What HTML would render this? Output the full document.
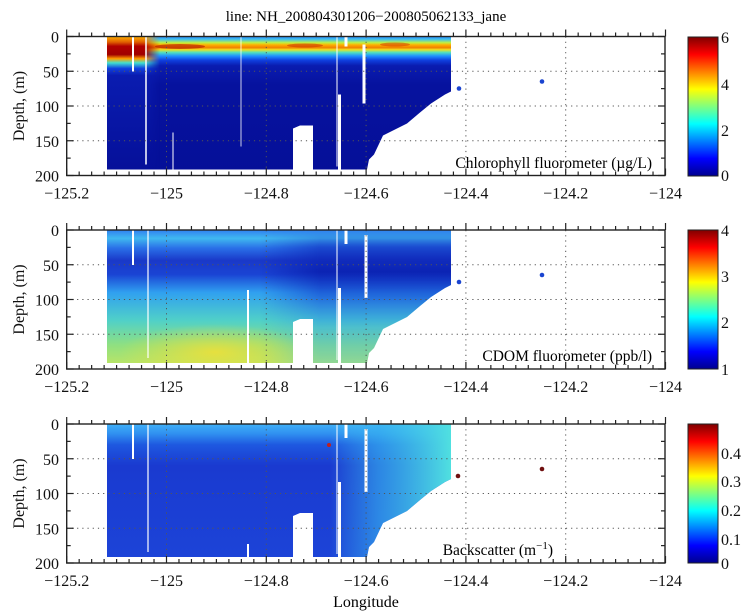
<!DOCTYPE html>
<html><head><meta charset="utf-8"><style>
html,body{margin:0;padding:0;background:#fff;}
svg{display:block;font-family:"Liberation Serif",serif;}
</style></head><body>
<svg width="750" height="614" viewBox="0 0 750 614" xmlns="http://www.w3.org/2000/svg">
<defs>
<linearGradient id="jet" x1="0" y1="1" x2="0" y2="0">
<stop offset="0" stop-color="#00008f"/><stop offset="0.125" stop-color="#0000ff"/>
<stop offset="0.375" stop-color="#00ffff"/><stop offset="0.625" stop-color="#ffff00"/>
<stop offset="0.875" stop-color="#ff0000"/><stop offset="1" stop-color="#800000"/>
</linearGradient>
<linearGradient id="chl" gradientUnits="userSpaceOnUse" x1="0" y1="0" x2="0" y2="139">
<stop offset="0" stop-color="#2a8cff"/><stop offset="0.02" stop-color="#40c0f0"/>
<stop offset="0.045" stop-color="#c0f040"/><stop offset="0.06" stop-color="#ffb000"/>
<stop offset="0.08" stop-color="#f08000"/><stop offset="0.095" stop-color="#f0e020"/>
<stop offset="0.115" stop-color="#50e0c0"/><stop offset="0.14" stop-color="#2090ff"/>
<stop offset="0.17" stop-color="#1040e0"/><stop offset="0.21" stop-color="#0a1cb0"/>
<stop offset="0.35" stop-color="#06129e"/><stop offset="1" stop-color="#050f98"/>
</linearGradient>
<linearGradient id="chlL" gradientUnits="userSpaceOnUse" x1="0" y1="0" x2="0" y2="139">
<stop offset="0" stop-color="#ffb000"/><stop offset="0.04" stop-color="#e06000"/>
<stop offset="0.07" stop-color="#b00000"/><stop offset="0.13" stop-color="#a00000"/>
<stop offset="0.16" stop-color="#ffa000"/><stop offset="0.19" stop-color="#40e0d0"/>
<stop offset="0.23" stop-color="#1040e0"/><stop offset="0.28" stop-color="#0a1cb0"/>
<stop offset="1" stop-color="#050f98"/>
</linearGradient>
<linearGradient id="fadeR" gradientUnits="userSpaceOnUse" x1="107" y1="0" x2="160" y2="0">
<stop offset="0" stop-color="#fff" stop-opacity="1"/><stop offset="0.7" stop-color="#fff" stop-opacity="1"/><stop offset="1" stop-color="#fff" stop-opacity="0"/>
</linearGradient>
<mask id="mL"><rect x="100" y="0" width="70" height="139" fill="url(#fadeR)"/></mask>
<linearGradient id="cdom" gradientUnits="userSpaceOnUse" x1="0" y1="0" x2="0" y2="139">
<stop offset="0" stop-color="#3080f0"/><stop offset="0.06" stop-color="#40b8f0"/>
<stop offset="0.13" stop-color="#2a70e8"/><stop offset="0.22" stop-color="#1a38c8"/>
<stop offset="0.32" stop-color="#1a44d4"/><stop offset="0.45" stop-color="#30a0f0"/>
<stop offset="0.65" stop-color="#50d0c8"/><stop offset="0.83" stop-color="#90e080"/>
<stop offset="0.96" stop-color="#b8e468"/><stop offset="1" stop-color="#b8e468"/>
</linearGradient>
<linearGradient id="cdomR" gradientUnits="userSpaceOnUse" x1="0" y1="0" x2="0" y2="139">
<stop offset="0" stop-color="#1a40d0" stop-opacity="0"/><stop offset="0.12" stop-color="#1030c0" stop-opacity="0.6"/>
<stop offset="0.3" stop-color="#0a20b0" stop-opacity="0.9"/><stop offset="0.5" stop-color="#1a50d8" stop-opacity="0.6"/>
<stop offset="0.7" stop-color="#30a0f0" stop-opacity="0.4"/><stop offset="1" stop-color="#40c0f0" stop-opacity="0.3"/>
</linearGradient>
<linearGradient id="cdomRH" gradientUnits="userSpaceOnUse" x1="260" y1="0" x2="320" y2="0">
<stop offset="0" stop-color="#fff" stop-opacity="0"/><stop offset="1" stop-color="#fff" stop-opacity="1"/>
</linearGradient>
<mask id="mR"><rect x="250" y="0" width="210" height="139" fill="url(#cdomRH)"/></mask>
<linearGradient id="bs" gradientUnits="userSpaceOnUse" x1="0" y1="0" x2="0" y2="139">
<stop offset="0" stop-color="#40b0f8"/><stop offset="0.07" stop-color="#3090f0"/>
<stop offset="0.15" stop-color="#1e58e0"/><stop offset="0.3" stop-color="#1a3ad0"/>
<stop offset="1" stop-color="#1c44d8"/>
</linearGradient>
<linearGradient id="bsR" gradientUnits="userSpaceOnUse" x1="330" y1="0" x2="451" y2="0">
<stop offset="0" stop-color="#40c8f0" stop-opacity="0"/><stop offset="0.4" stop-color="#38b8f0" stop-opacity="0.6"/>
<stop offset="1" stop-color="#50e0e0" stop-opacity="1"/>
</linearGradient>
<radialGradient id="yel"><stop offset="0" stop-color="#f8e030" stop-opacity="0.8"/><stop offset="1" stop-color="#f8e030" stop-opacity="0"/></radialGradient>
<clipPath id="cp"><path d="M107,0 L107,133 L293,133 L293,92 L300,89 L313,89 L313,133 L338,133 L338,58 L341,58 L341,133 L367,133 L369,123 L374,118 L383,99 L395,93 L407,87 L420,76 L431,67 L445,58 L451,55 L451,0 Z"/></clipPath>
</defs>

<text x="366" y="21" font-size="15" text-anchor="middle">line: NH_200804301206−200805062133_jane</text>

<!-- Panel 1 -->
<g transform="translate(0,36.5)">
<g clip-path="url(#cp)">
<rect x="100" y="0" width="360" height="139" fill="url(#chl)"/>
<rect x="100" y="0" width="70" height="139" fill="url(#chlL)" mask="url(#mL)"/>
<ellipse cx="180" cy="10" rx="25" ry="2.5" fill="#b01000" opacity="0.6"/>
<ellipse cx="305" cy="9" rx="18" ry="2" fill="#c02000" opacity="0.5"/>
<ellipse cx="395" cy="8" rx="15" ry="2" fill="#d03000" opacity="0.5"/>
</g>
<g stroke="#fff" fill="none"><line x1="133" y1="0" x2="133" y2="35" stroke-width="2"/><line x1="146" y1="0" x2="146" y2="128" stroke-width="1.5"/><line x1="173" y1="96" x2="173" y2="134"/><line x1="241" y1="0" x2="241" y2="110" stroke-width="0.8"/><line x1="337" y1="0" x2="337" y2="130"/><line x1="364" y1="8" x2="364" y2="67" stroke-width="3"/><line x1="346" y1="0" x2="346" y2="10" stroke-width="3"/></g>
<circle cx="459" cy="52" r="2.3" fill="#1a44d0"/><circle cx="542" cy="45" r="2.3" fill="#1a44d0"/>
</g>

<!-- Panel 2 -->
<g transform="translate(0,230)">
<g clip-path="url(#cp)">
<rect x="100" y="0" width="360" height="139" fill="url(#cdom)"/>
<rect x="250" y="0" width="210" height="139" fill="url(#cdomR)" mask="url(#mR)"/>
<ellipse cx="215" cy="122" rx="95" ry="28" fill="url(#yel)"/>
</g>
<g stroke="#fff" fill="none"><line x1="133" y1="0" x2="133" y2="35" stroke-width="2"/><line x1="148" y1="0" x2="148" y2="128" stroke-width="1.2"/><line x1="248" y1="60" x2="248" y2="134" stroke-width="2"/><line x1="337" y1="0" x2="337" y2="130"/><line x1="346" y1="0" x2="346" y2="14" stroke-width="3"/><line x1="366" y1="5" x2="366" y2="68" stroke-width="3"/></g>
<circle cx="459" cy="52" r="2.3" fill="#1a44d0"/><circle cx="542" cy="45" r="2.3" fill="#1a44d0"/>
</g>

<!-- Panel 3 -->
<g transform="translate(0,424)">
<g clip-path="url(#cp)">
<rect x="100" y="0" width="360" height="139" fill="url(#bs)"/>
<rect x="330" y="0" width="130" height="139" fill="url(#bsR)"/>
</g>
<g stroke="#fff" fill="none"><line x1="133" y1="0" x2="133" y2="35" stroke-width="2"/><line x1="148" y1="0" x2="148" y2="128" stroke-width="1.2"/><line x1="248" y1="120" x2="248" y2="134" stroke-width="2"/><line x1="337" y1="0" x2="337" y2="130"/><line x1="346" y1="0" x2="346" y2="14" stroke-width="3"/><line x1="366" y1="5" x2="366" y2="68" stroke-width="3"/></g>
<circle cx="329" cy="21" r="2" fill="#c02020"/>
<circle cx="458" cy="52" r="2.3" fill="#701010"/><circle cx="542" cy="45" r="2.3" fill="#701010"/>
</g>

<g id="axes" fill="none" stroke="#222"></g>
<g id="labels" font-size="16" fill="#111"></g>

<text x="652" y="168" font-size="15.5" text-anchor="end">Chlorophyll fluorometer (µg/L)</text>
<text x="652" y="361" font-size="15.5" text-anchor="end">CDOM fluorometer (ppb/l)</text>
<text x="553" y="555" font-size="15.5" text-anchor="end">Backscatter (m<tspan dy="-6" font-size="11">−1</tspan><tspan dy="6">)</tspan></text>
<text x="366" y="607" font-size="16" text-anchor="middle">Longitude</text>

<rect x="688" y="37" width="30" height="139" fill="url(#jet)" stroke="#222"/>
<rect x="688" y="230" width="30" height="139" fill="url(#jet)" stroke="#222"/>
<rect x="688" y="424" width="30" height="139" fill="url(#jet)" stroke="#222"/>
<g font-size="16" fill="#111">
<text x="721" y="43">6</text><text x="721" y="90">4</text><text x="721" y="136">2</text><text x="721" y="181">0</text>
<text x="721" y="236">4</text><text x="721" y="282">3</text><text x="721" y="328">2</text><text x="721" y="375">1</text>
<text x="721" y="459">0.4</text><text x="721" y="487">0.3</text><text x="721" y="516">0.2</text><text x="721" y="545">0.1</text><text x="721" y="569">0</text>
</g>

<script>
(function(){
var ns="http://www.w3.org/2000/svg";
var ax=document.getElementById("axes"),lb=document.getElementById("labels");
function el(p,t,a,txt){var e=document.createElementNS(ns,t);for(var k in a)e.setAttribute(k,a[k]);if(txt!==undefined)e.textContent=txt;p.appendChild(e);return e;}
var L=66.7,R=665,H=139,tops=[36.5,230,424];
function X(l){return L+(l+125.2)*499;}
var xl=["−125.2","−125","−124.8","−124.6","−124.4","−124.2","−124"];
tops.forEach(function(T){
  var B=T+H;
  for(var i=1;i<6;i++){var x=X(-125.2+0.2*i);el(ax,"line",{x1:x,y1:T,x2:x,y2:B,stroke:"#555","stroke-width":1,"stroke-dasharray":"1.2,4"});}
  for(var d=50;d<200;d+=50){var y=T+d*H/200;el(ax,"line",{x1:L,y1:y,x2:R,y2:y,stroke:"#555","stroke-width":1,"stroke-dasharray":"1.2,4"});}
  el(ax,"rect",{x:L,y:T,width:R-L,height:H,"stroke-width":1.4});
  for(var j=0;j<=48;j++){var x=X(-125.2+0.025*j);var len=(j%8==0)?7:4;
    el(ax,"line",{x1:x,y1:T,x2:x,y2:T-len,"stroke-width":1.2});
    el(ax,"line",{x1:x,y1:B,x2:x,y2:B-len,"stroke-width":1.2});}
  for(var d=0;d<=200;d+=25){var y=T+d*H/200;var len=(d%50==0)?7:4;
    el(ax,"line",{x1:L,y1:y,x2:L+len,y2:y,"stroke-width":1.2});
    el(ax,"line",{x1:R,y1:y,x2:R-len,y2:y,"stroke-width":1.2});
    if(d%50==0)el(lb,"text",{x:59,y:y+6,"text-anchor":"end"},String(d));}
  for(var i=0;i<7;i++)el(lb,"text",{x:X(-125.2+0.2*i),y:B+23,"text-anchor":"middle"},xl[i]);
  el(lb,"text",{transform:"translate(24,"+(T+H/2)+") rotate(-90)","text-anchor":"middle"},"Depth, (m)");
});
})();
</script>
</svg>
</body></html>
